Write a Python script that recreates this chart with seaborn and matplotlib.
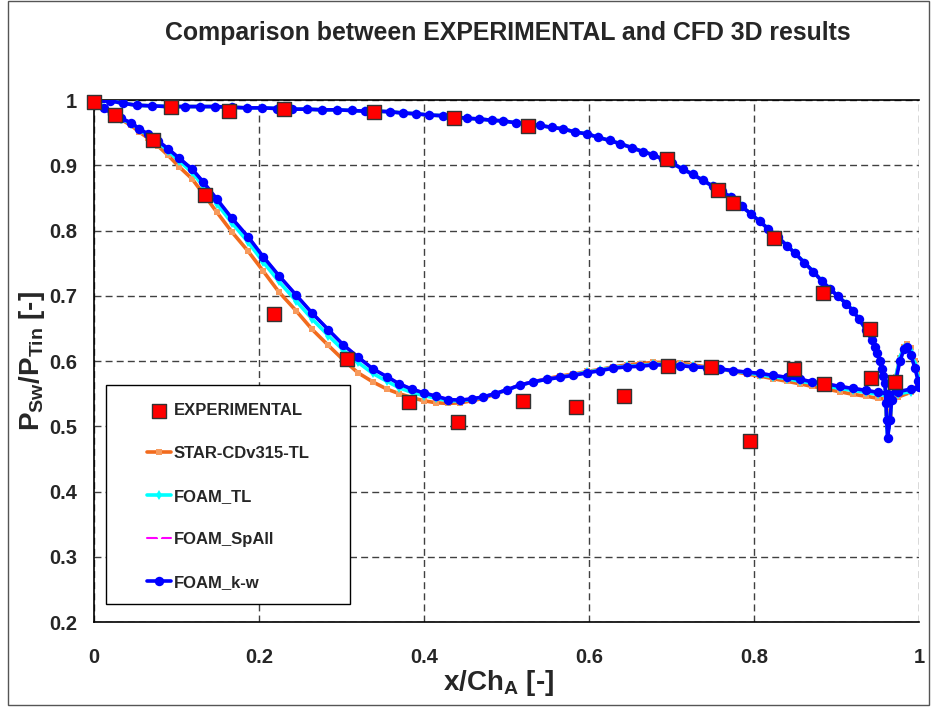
import matplotlib
matplotlib.use("Agg")
import matplotlib.pyplot as plt
import pandas as pd
import seaborn as sns
from matplotlib.patches import Rectangle

# ---- dados -----------------------------------------------------------------
exp_x = [0.000, 0.025, 0.072, 0.093, 0.135, 0.164, 0.230, 0.218, 0.307, 0.339,
         0.382, 0.436, 0.441, 0.520, 0.526, 0.584, 0.642, 0.695, 0.696, 0.756,
         0.748, 0.775, 0.795, 0.824, 0.848, 0.884, 0.885, 0.941, 0.942, 0.971]
exp_y = [0.997, 0.977, 0.939, 0.989, 0.855, 0.983, 0.986, 0.672, 0.603, 0.982,
         0.537, 0.972, 0.507, 0.539, 0.960, 0.530, 0.547, 0.910, 0.593, 0.862,
         0.591, 0.842, 0.478, 0.789, 0.588, 0.704, 0.565, 0.649, 0.574, 0.568]

# lado de pressão (mesmos pontos de malha para todos os modelos)
x_ps = [0.002, 0.019, 0.035, 0.052, 0.070, 0.090, 0.110, 0.128, 0.147, 0.167,
        0.185, 0.204, 0.222, 0.240, 0.258, 0.276, 0.295, 0.313, 0.328, 0.343,
        0.359, 0.375, 0.390, 0.406, 0.423, 0.438, 0.452, 0.467, 0.482, 0.496,
        0.512, 0.526, 0.541, 0.555, 0.568, 0.583, 0.598, 0.611, 0.625, 0.638,
        0.652, 0.665, 0.678, 0.690, 0.701, 0.714, 0.726, 0.738, 0.750, 0.761,
        0.772, 0.785, 0.796, 0.807, 0.817, 0.829, 0.840, 0.850, 0.861, 0.872,
        0.882, 0.892, 0.902, 0.912, 0.920, 0.927, 0.936, 0.943, 0.947, 0.949,
        0.953, 0.955, 0.956, 0.959]
y_ps = [0.997, 0.999, 0.995, 0.992, 0.991, 0.990, 0.990, 0.990, 0.990, 0.989,
        0.988, 0.988, 0.987, 0.986, 0.986, 0.985, 0.985, 0.984, 0.983, 0.983,
        0.982, 0.980, 0.979, 0.977, 0.976, 0.974, 0.972, 0.971, 0.969, 0.968,
        0.965, 0.963, 0.961, 0.958, 0.956, 0.951, 0.948, 0.943, 0.938, 0.933,
        0.927, 0.921, 0.916, 0.909, 0.903, 0.894, 0.886, 0.877, 0.868, 0.860,
        0.851, 0.837, 0.826, 0.814, 0.803, 0.790, 0.777, 0.765, 0.751, 0.737,
        0.723, 0.711, 0.699, 0.688, 0.677, 0.665, 0.648, 0.632, 0.622, 0.612,
        0.600, 0.588, 0.577, 0.566]

# bordo de fuga
x_te = [0.960, 0.961, 0.962, 0.965, 0.967, 0.972, 0.977, 0.982, 0.986, 0.990,
        0.995, 0.999, 1.000, 0.990, 0.975]
y_te_star = [0.540, 0.520, 0.500, 0.520, 0.545, 0.575, 0.605, 0.622, 0.626, 0.620,
             0.600, 0.580, 0.565, 0.552, 0.545]
y_te_tl = [0.535, 0.508, 0.485, 0.510, 0.540, 0.575, 0.605, 0.620, 0.622, 0.615,
           0.595, 0.575, 0.560, 0.553, 0.550]
y_te_spall = [0.536, 0.510, 0.483, 0.510, 0.540, 0.572, 0.602, 0.619, 0.622, 0.612,
              0.592, 0.572, 0.561, 0.557, 0.553]
y_te_kw = [0.536, 0.510, 0.482, 0.510, 0.540, 0.570, 0.600, 0.618, 0.621, 0.610,
           0.590, 0.570, 0.560, 0.557, 0.553]

# lado de sucção
x_ss = [0.002, 0.012, 0.022, 0.033, 0.045, 0.055, 0.065, 0.078, 0.090, 0.103,
        0.119, 0.132, 0.149, 0.167, 0.187, 0.205, 0.224, 0.245, 0.264, 0.284,
        0.302, 0.320, 0.338, 0.355, 0.370, 0.385, 0.400, 0.415, 0.429, 0.444,
        0.458, 0.472, 0.486, 0.501, 0.516, 0.532, 0.549, 0.565, 0.581, 0.598,
        0.613, 0.629, 0.646, 0.662, 0.678, 0.695, 0.710, 0.726, 0.743, 0.759,
        0.775, 0.792, 0.807, 0.823, 0.840, 0.856, 0.871, 0.888, 0.904, 0.920,
        0.936, 0.950, 0.962]
y_ss_kw = [0.997, 0.988, 0.979, 0.972, 0.965, 0.956, 0.948, 0.937, 0.925, 0.911,
           0.894, 0.875, 0.848, 0.819, 0.790, 0.760, 0.731, 0.701, 0.674, 0.648,
           0.625, 0.606, 0.588, 0.576, 0.565, 0.557, 0.551, 0.546, 0.541, 0.540,
           0.542, 0.545, 0.550, 0.556, 0.563, 0.568, 0.572, 0.575, 0.578, 0.582,
           0.585, 0.589, 0.591, 0.592, 0.594, 0.594, 0.593, 0.591, 0.590, 0.588,
           0.585, 0.583, 0.581, 0.578, 0.575, 0.572, 0.568, 0.565, 0.561, 0.558,
           0.555, 0.552, 0.550]
y_ss_spall = [0.997, 0.989, 0.980, 0.973, 0.966, 0.957, 0.949, 0.938, 0.926, 0.912,
              0.895, 0.876, 0.849, 0.820, 0.791, 0.761, 0.732, 0.702, 0.675, 0.649,
              0.626, 0.607, 0.589, 0.577, 0.566, 0.558, 0.552, 0.547, 0.542, 0.541,
              0.543, 0.546, 0.551, 0.557, 0.564, 0.569, 0.573, 0.576, 0.579, 0.583,
              0.586, 0.590, 0.592, 0.593, 0.595, 0.595, 0.594, 0.592, 0.591, 0.589,
              0.586, 0.584, 0.582, 0.579, 0.576, 0.573, 0.569, 0.566, 0.562, 0.559,
              0.556, 0.553, 0.551]
y_ss_tl = [0.997, 0.988, 0.979, 0.971, 0.964, 0.955, 0.946, 0.935, 0.922, 0.907,
           0.889, 0.869, 0.841, 0.812, 0.782, 0.752, 0.722, 0.692, 0.665, 0.639,
           0.617, 0.598, 0.581, 0.569, 0.559, 0.552, 0.547, 0.543, 0.539, 0.539,
           0.541, 0.545, 0.550, 0.556, 0.563, 0.568, 0.572, 0.575, 0.579, 0.583,
           0.586, 0.590, 0.592, 0.593, 0.595, 0.595, 0.594, 0.592, 0.590, 0.588,
           0.585, 0.582, 0.579, 0.576, 0.573, 0.569, 0.566, 0.562, 0.558, 0.555,
           0.552, 0.549, 0.547]
y_ss_star = [0.997, 0.987, 0.978, 0.970, 0.961, 0.951, 0.942, 0.929, 0.915, 0.898,
             0.879, 0.857, 0.828, 0.798, 0.768, 0.738, 0.706, 0.677, 0.649, 0.624,
             0.602, 0.582, 0.568, 0.557, 0.550, 0.544, 0.539, 0.536, 0.535, 0.536,
             0.539, 0.543, 0.549, 0.556, 0.563, 0.568, 0.573, 0.577, 0.580, 0.584,
             0.587, 0.591, 0.594, 0.596, 0.598, 0.598, 0.597, 0.594, 0.591, 0.588,
             0.584, 0.580, 0.577, 0.573, 0.569, 0.565, 0.561, 0.557, 0.553, 0.549,
             0.546, 0.543, 0.541]

x_ticks = [0, 0.2, 0.4, 0.6, 0.8, 1]
y_ticks = [0.2, 0.3, 0.4, 0.5, 0.6, 0.7, 0.8, 0.9, 1]
# ---------------------------------------------------------------------------

sns.set_style("white")
plt.rcParams["font.family"] = ["Liberation Sans", "DejaVu Sans"]
plt.rcParams["font.weight"] = "bold"
plt.rcParams["axes.labelweight"] = "bold"
plt.rcParams["mathtext.fontset"] = "custom"
plt.rcParams["mathtext.rm"] = "Liberation Sans:bold"
plt.rcParams["mathtext.it"] = "Liberation Sans:bold"
plt.rcParams["mathtext.bf"] = "Liberation Sans:bold"


def loop(y_ss, y_te):
    """Percorre o perfil: pressão (BA->BF), bordo de fuga, sucção (BF->BA)."""
    xs = x_ps + x_te + x_ss[::-1]
    ys = y_ps + y_te + y_ss[::-1]
    return pd.DataFrame({"x": xs, "y": ys})


fig = plt.figure(figsize=(9.31, 7.13), dpi=100)
ax = fig.add_axes([0.101, 0.1276, 0.886, 0.7321])

series = [
    ("STAR-CDv315-TL", y_ss_star, y_te_star, dict(color="#F26B1D", marker="s", markersize=4.5,
                                                  markerfacecolor="#F79A5C", linewidth=2.6)),
    ("FOAM_TL", y_ss_tl, y_te_tl, dict(color="#00FFFF", marker="d", markersize=5, linewidth=2.6)),
    ("FOAM_SpAll", y_ss_spall, y_te_spall, dict(color="#FF00FF", marker="x", markersize=5,
                                                markeredgewidth=1.0, linewidth=1.5)),
    ("FOAM_k-w", y_ss_kw, y_te_kw, dict(color="#0000FF", marker="o", markersize=6.8, linewidth=2.6)),
]
for z, (nome, yss, yte, estilo) in enumerate(series):
    d = loop(yss, yte)
    kw = dict(estilo)
    if kw["marker"] != "x":
        kw.setdefault("markeredgewidth", 0)
    sns.lineplot(data=d, x="x", y="y", sort=False, estimator=None, ax=ax,
                 label=nome, zorder=3 + z, **kw)

sns.scatterplot(x=exp_x, y=exp_y, marker="s", s=95, color="#FF0000",
                edgecolor="#333333", linewidth=1.0, ax=ax, label="EXPERIMENTAL",
                zorder=10, clip_on=False)

ax.set_xlim(0, 1)
ax.set_ylim(0.2, 1)
ax.set_xticks(x_ticks)
ax.set_yticks(y_ticks)
ax.set_xticklabels([f"{v:g}" for v in x_ticks])
ax.set_yticklabels([f"{v:g}" for v in y_ticks])
ax.tick_params(axis="x", direction="out", length=5, width=1, pad=14, labelsize=14.5)
ax.tick_params(axis="y", direction="inout", length=8, width=1, pad=8, labelsize=14.5)
ax.grid(True, linestyle=(0, (5, 3)), color="#404040", linewidth=1.0, zorder=0)
ax.set_axisbelow(True)
for lado in ["left", "bottom", "top"]:
    ax.spines[lado].set_color("black")
    ax.spines[lado].set_linewidth(1.2)
ax.spines["right"].set_visible(False)

ax.set_xlabel(r"x/Ch$_\mathrm{A}$ [-]", fontsize=20, fontweight="bold")
ax.set_ylabel(r"P$_\mathrm{Sw}$/P$_\mathrm{Tin}$ [-]", fontsize=20, fontweight="bold")
ax.xaxis.set_label_coords(0.49, -0.088)
ax.yaxis.set_label_coords(-0.057, 0.5)

# legenda: caixa desenhada à parte para imitar o preenchimento do Excel
ax.add_patch(Rectangle((0.0145, 0.0345), 0.2958, 0.4195, transform=ax.transAxes,
                       facecolor="white", edgecolor="black", linewidth=1.0, zorder=20))
handles, labels = ax.get_legend_handles_labels()
ordem = [labels.index(n) for n in ["EXPERIMENTAL", "STAR-CDv315-TL", "FOAM_TL", "FOAM_SpAll", "FOAM_k-w"]]
leg = ax.legend([handles[i] for i in ordem], [labels[i] for i in ordem],
                loc="upper left", bbox_to_anchor=(0.064, 0.419), frameon=False,
                borderpad=0, borderaxespad=0, labelspacing=1.68, handlelength=1.45,
                handletextpad=0.15, prop={"weight": "bold", "size": 12})
leg.set_zorder(21)

fig.text(0.545, 0.954, "Comparison between EXPERIMENTAL and CFD 3D results",
         ha="center", va="center", fontsize=17.9, fontweight="bold")
fig.add_artist(Rectangle((0.0086, 0.011), 0.989, 0.987, transform=fig.transFigure,
                         fill=False, edgecolor="#555555", linewidth=1.0))

fig.savefig("out.png", dpi=100)
